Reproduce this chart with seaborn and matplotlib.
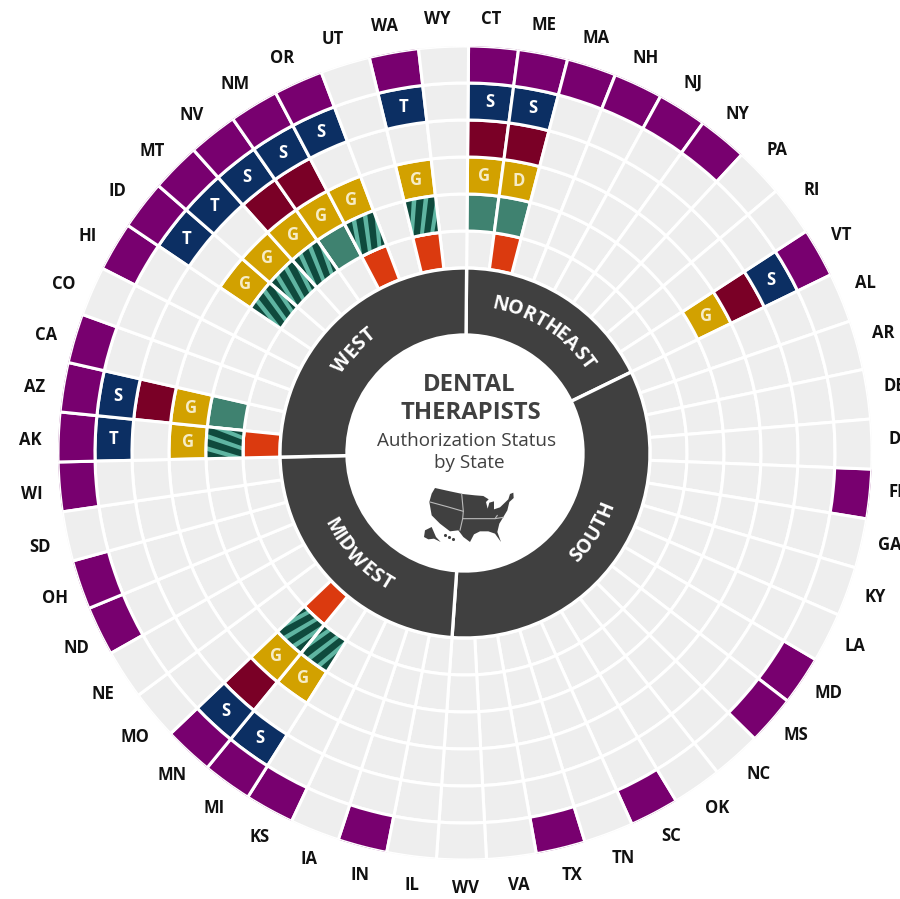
import numpy as np
import pandas as pd
import matplotlib
matplotlib.use("Agg")
import matplotlib.pyplot as plt
import seaborn as sns
from matplotlib.font_manager import FontProperties
from matplotlib.path import Path
from matplotlib.textpath import TextPath

# states clockwise from the top, grouped by region
northeast = ["CT", "ME", "MA", "NH", "NJ", "NY", "PA", "RI", "VT"]
south = ["AL", "AR", "DE", "DC", "FL", "GA", "KY", "LA", "MD", "MS", "NC", "OK", "SC", "TN", "TX", "VA", "WV"]
midwest = ["IL", "IN", "IA", "KS", "MI", "MN", "MO", "NE", "ND", "OH", "SD", "WI"]
west = ["AK", "AZ", "CA", "CO", "HI", "ID", "MT", "NV", "NM", "OR", "UT", "WA", "WY"]
region_names = ["NORTHEAST", "SOUTH", "MIDWEST", "WEST"]

# filled cells per ring, inner ring first
ring_red = ["ME", "MN", "AK", "OR", "WA"]
ring_teal = ["CT", "ME", "AZ", "NM"]
ring_striped = ["MI", "MN", "AK", "ID", "MT", "NV", "OR", "WA"]
ring_gold = {"CT": "G", "ME": "D", "VT": "G", "MI": "G", "MN": "G", "AK": "G", "AZ": "G", "ID": "G",
             "MT": "G", "NV": "G", "NM": "G", "OR": "G", "WA": "G"}
ring_maroon = ["CT", "ME", "VT", "MN", "AZ", "NV", "NM"]
ring_navy = {"CT": "S", "ME": "S", "VT": "S", "MI": "S", "MN": "S", "AK": "T", "AZ": "S", "ID": "T",
             "MT": "T", "NV": "S", "NM": "S", "OR": "S", "WA": "T"}
ring_purple = ["CT", "ME", "MA", "NH", "NJ", "NY", "VT", "FL", "MD", "MS", "SC", "TX", "IN", "KS", "MI", "MN",
               "ND", "OH", "WI", "AK", "AZ", "CA", "HI", "ID", "MT", "NV", "NM", "OR", "WA"]

# icon outline (3x pixels from its corner)
us_outline = [(45, 18), (90, 28), (128, 36), (165, 40), (190, 42), (206, 52), (198, 60), (203, 80), (208, 62),
              (222, 58), (222, 82), (240, 76), (265, 52), (270, 36), (280, 32), (281, 48), (268, 60), (262, 85),
              (250, 105), (238, 125), (232, 150), (243, 180), (225, 155), (205, 148), (180, 148), (162, 157),
              (150, 180), (130, 165), (115, 145), (90, 148), (60, 125), (35, 100), (28, 60), (35, 35)]
alaska_outline = [(15, 145), (35, 135), (48, 165), (62, 180), (42, 170), (25, 172), (12, 165)]
us_borders = [[(30, 60), (85, 75), (130, 88), (128, 110), (225, 110), (250, 106)], [(125, 35), (130, 88)],
              [(128, 110), (120, 145)], [(225, 110), (232, 100)]]
hawaii_dots = [(75, 160), (88, 165), (100, 172)]

colors = {"empty": "#EEEEEE", "red": "#DB3A0F", "teal": "#3F8270", "striped": "#0F4A3D", "gold": "#D2A100",
          "maroon": "#7A0026", "navy": "#0C2F63", "purple": "#78006F"}
dark = "#404040"

sns.set_theme(style="white")
plt.rcParams["font.family"] = ["Open Sans", "DejaVu Sans"]

W, H = 900, 899
CX, CY, R = 465, 453, 407
RING_IN, RING_W = 185, 37
OFFSET = 0.5

states = northeast + south + midwest + west
step = 360 / len(states)
centers = {s: np.deg2rad(OFFSET + (i + 0.5) * step) for i, s in enumerate(states)}

# teal and striped share one ring
layout = [[("red", ring_red)], [("teal", ring_teal), ("striped", ring_striped)], [("gold", list(ring_gold))],
          [("maroon", ring_maroon)], [("navy", list(ring_navy))], [("purple", ring_purple)]]

rows = []
for ring, entries in enumerate(layout):
    for s in states:
        status = "empty"
        for name, members in entries:
            if s in members:
                status = name
        rows.append({"state": s, "theta": centers[s], "ring": ring, "status": status, "height": RING_W})
df = pd.DataFrame(rows)

fig = plt.figure(figsize=(W / 100, H / 100), dpi=100, facecolor="white")
ax = fig.add_axes([(CX - R) / W, (H - CY - R) / H, 2 * R / W, 2 * R / H], projection="polar")
ax.set_theta_zero_location("N")
ax.set_theta_direction(-1)

for ring, cells in df.groupby("ring"):
    sns.barplot(data=cells, x="theta", y="height", hue="status", palette=colors, native_scale=True, width=1,
                dodge=False, saturation=1, bottom=RING_IN + ring * RING_W, edgecolor="white", linewidth=2.2,
                legend=False, errorbar=None, ax=ax)

# stripes are clipped to their cell
cell_w = np.deg2rad(step)
r0 = RING_IN + RING_W
for s in ring_striped:
    t = np.linspace(centers[s] - cell_w / 2, centers[s] + cell_w / 2, 30)
    verts = np.vstack([np.column_stack([t, np.full(30, r0)]), np.column_stack([t[::-1], np.full(30, r0 + RING_W)]),
                       [[t[0], r0]]])
    clip = Path(verts, closed=True)
    ax.bar(centers[s], RING_W, width=cell_w, bottom=r0, color=colors["striped"], linewidth=0, zorder=3)
    t0 = centers[s] - cell_w
    for k in range(6):
        a = t0 + k * np.deg2rad(2.7)
        w = np.deg2rad(1.05)
        tilt = np.deg2rad(2.6)
        poly = ax.fill([a, a + w, a + w + tilt, a + tilt], [r0, r0, r0 + RING_W, r0 + RING_W], color="#5FB5A2",
                       linewidth=0, zorder=4)[0]
        poly.set_clip_path(clip, ax.transData)
    ax.bar(centers[s], RING_W, width=cell_w, bottom=r0, facecolor="none", edgecolor="white", linewidth=2.2, zorder=5)

# dark region ring
start = OFFSET
region_mid = []
for members in [northeast, south, midwest, west]:
    span = len(members) * step
    ax.bar(np.deg2rad(start + span / 2), 185 - 118, width=np.deg2rad(span), bottom=118, color=dark,
           edgecolor="white", linewidth=2.4, zorder=6)
    region_mid.append(start + span / 2)
    start += span

# letters inside the cells
for ring, labels, col in [(2, ring_gold, "#F6ECC6"), (4, ring_navy, "white")]:
    for s, letter in labels.items():
        ax.text(centers[s], RING_IN + (ring + 0.5) * RING_W, letter, color=col, fontsize=12, fontweight="bold",
                ha="center", va="center", zorder=7)

# state names
for s in states:
    ax.text(centers[s] - np.deg2rad(0.6), 435, s, color="#111111", fontsize=12, fontweight="bold", ha="center",
            va="center", clip_on=False)


def curved_label(text, mid_deg, radius, flip, size=14, spacing=2.4):
    prop = FontProperties(family="Open Sans", weight="bold", size=size * 100 / 72)
    widths = [TextPath((0, 0), c, prop=prop).get_extents().width for c in text]
    total = sum(widths) + spacing * (len(text) - 1)
    pos = -total / 2
    for c, w in zip(text, widths):
        d = np.rad2deg((pos + w / 2) / radius)
        theta = mid_deg - d if flip else mid_deg + d
        rot = 180 - theta if flip else -theta
        ax.text(np.deg2rad(theta), radius, c, color="white", fontsize=size, fontweight="bold", rotation=rot,
                rotation_mode="anchor", ha="center", va="center", zorder=8)
        pos += w + spacing


flips = [False, True, True, False]
label_shift = [1, -2, 0, -2]
for name, mid, flip, shift in zip(region_names, region_mid, flips, label_shift):
    curved_label(name, mid + shift, 152, flip)

ax.set_xlabel("")
ax.set_ylabel("")
ax.set_xticks([])
ax.set_yticks([])
ax.set_xlim(0, 2 * np.pi)
ax.set_ylim(0, R)
ax.grid(False)
ax.spines["polar"].set_visible(False)
ax.patch.set_alpha(0)

# centre title
fig.text(469 / W, 1 - 385 / H, "DENTAL", color=dark, fontsize=17.2, fontweight="bold", ha="center", va="center")
fig.text(471 / W, 1 - 413 / H, "THERAPISTS", color=dark, fontsize=17.2, fontweight="bold", ha="center", va="center")
fig.text(467 / W, 1 - 441 / H, "Authorization Status", color=dark, fontsize=13.6, ha="center", va="center")
fig.text(469 / W, 1 - 463 / H, "by State", color=dark, fontsize=13.6, ha="center", va="center")

# little US map
ax_map = fig.add_axes([0, 0, 1, 1])
ax_map.set_xlim(0, W)
ax_map.set_ylim(H, 0)
ax_map.axis("off")
ax_map.patch.set_alpha(0)


def to_px(points):
    pts = np.array(points, dtype=float) / 3
    return pts[:, 0] + 420, pts[:, 1] + 482


for outline in [us_outline, alaska_outline]:
    ax_map.fill(*to_px(outline), color=dark, linewidth=0)
for line in us_borders:
    ax_map.plot(*to_px(line), color="#BBBBBB", linewidth=0.8)
ax_map.scatter(*to_px(hawaii_dots), s=5, color=dark, linewidth=0)

fig.savefig("out.png", dpi=100, facecolor="white")
